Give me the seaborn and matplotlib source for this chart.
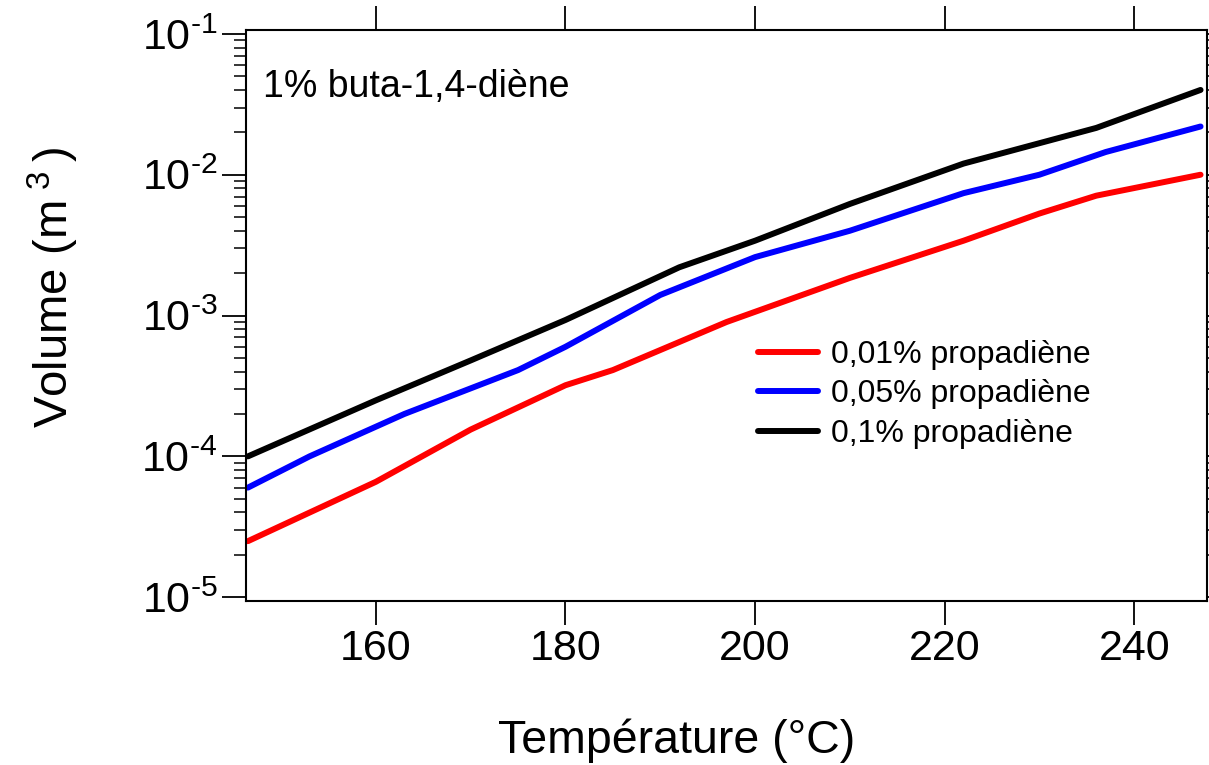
import math
import pandas as pd
import matplotlib.pyplot as plt
import matplotlib.ticker as mticker
import seaborn as sns

# values (Température in °C, Volume in m3)
temp_001 = [146.5, 160, 170, 180, 185, 197, 210, 222, 230, 236, 247]
vol_001 = [2.5e-5, 6.6e-5, 1.55e-4, 3.2e-4, 4.1e-4, 9.0e-4, 1.85e-3, 3.4e-3, 5.3e-3, 7.1e-3, 1.0e-2]

temp_005 = [146.5, 153, 163, 175, 180, 190, 200, 210, 222, 230, 237, 247]
vol_005 = [6.0e-5, 1.0e-4, 2.0e-4, 4.1e-4, 6.0e-4, 1.4e-3, 2.6e-3, 4.0e-3, 7.4e-3, 1.0e-2, 1.45e-2, 2.2e-2]

temp_01 = [146.5, 160, 170, 180, 192, 200, 210, 222, 236, 247]
vol_01 = [1.0e-4, 2.5e-4, 4.8e-4, 9.3e-4, 2.2e-3, 3.4e-3, 6.2e-3, 1.2e-2, 2.15e-2, 4.0e-2]

labels = ["0,01% propadiène", "0,05% propadiène", "0,1% propadiène"]
colors = ["#ff0000", "#0000ff", "#000000"]

df = pd.concat([
    pd.DataFrame({"temp": temp_001, "vol": vol_001, "serie": labels[0]}),
    pd.DataFrame({"temp": temp_005, "vol": vol_005, "serie": labels[1]}),
    pd.DataFrame({"temp": temp_01, "vol": vol_01, "serie": labels[2]}),
])

sns.set_style("ticks")
plt.rcParams["font.family"] = ["Liberation Sans", "DejaVu Sans"]
plt.rcParams["mathtext.fontset"] = "custom"
plt.rcParams["mathtext.rm"] = "Liberation Sans"
plt.rcParams["mathtext.it"] = "Liberation Sans"
for k in ["text.color", "axes.labelcolor", "xtick.color", "ytick.color", "axes.edgecolor"]:
    plt.rcParams[k] = "black"

fig = plt.figure(figsize=(12.09, 7.65), dpi=100)
ax = fig.add_axes([0.2035, 0.2144, 0.795, 0.7464])

sns.lineplot(data=df, x="temp", y="vol", hue="serie", palette=colors,
             linewidth=4.3, ax=ax, estimator=None, sort=False)

ax.set_yscale("log")
ax.set_xlim(146.3, 247.7)
ax.set_ylim(9.4e-6, 0.1066)
ax.set_xticks([160, 180, 200, 220, 240])
ax.yaxis.set_major_locator(mticker.LogLocator(base=10, numticks=10))
ax.yaxis.set_minor_locator(mticker.LogLocator(base=10, subs=range(2, 10), numticks=20))
ax.yaxis.set_major_formatter(mticker.FuncFormatter(
    lambda v, p: "$\\mathregular{10^{\u2010%d}}$" % abs(round(math.log10(v)))))
ax.yaxis.set_minor_formatter(mticker.NullFormatter())

ax.tick_params(axis="both", which="major", labelsize=31, length=17, width=1.3,
               direction="out")
ax.tick_params(axis="y", which="minor", length=9, width=1.1, direction="out")
ax.tick_params(top=True, right=True, which="both")
for s in ax.spines.values():
    s.set_linewidth(1.5)

ax.set_xlabel("Température (°C)", fontsize=33.5)
ax.set_ylabel("Volume (m$\\mathregular{^{\\ 3\\ }}$)", fontsize=34)
ax.xaxis.set_label_coords(0.4485, -0.205, transform=ax.transAxes)
ax.yaxis.set_label_coords(-0.172, 0.55, transform=ax.transAxes)

ax.text(0.018, 0.9, "1% buta-1,4-diène", transform=ax.transAxes,
        fontsize=27, va="center", ha="left")

leg = ax.legend(loc="upper left", bbox_to_anchor=(0.519, 0.48), frameon=False,
                fontsize=23, handlelength=1.9, handletextpad=0.4,
                labelspacing=0.3, borderaxespad=0)
for line in leg.get_lines():
    line.set_linewidth(4.3)

fig.savefig("out.png", dpi=100)
plt.close()
